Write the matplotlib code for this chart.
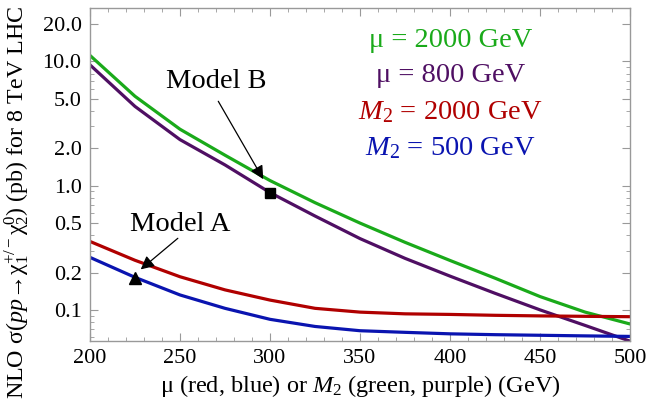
import numpy as np
import matplotlib
matplotlib.use("Agg")
import matplotlib.pyplot as plt
from matplotlib.ticker import FixedLocator, NullFormatter, MultipleLocator, LogLocator

plt.rcParams['font.family'] = ['Liberation Serif', 'DejaVu Serif']
plt.rcParams['mathtext.fontset'] = 'custom'
plt.rcParams['mathtext.rm'] = 'Liberation Serif'
plt.rcParams['mathtext.it'] = 'Liberation Serif:italic'

# mass parameter (GeV)
mass = [200, 225, 250, 275, 300, 325, 350, 375, 400, 425, 450, 475, 500]

# cross sections (pb)
green = [11.2, 5.25, 2.85, 1.76, 1.1, 0.73, 0.50, 0.35, 0.25, 0.18, 0.128, 0.096, 0.077]
purple = [9.4, 4.35, 2.35, 1.47, 0.88, 0.57, 0.375, 0.26, 0.187, 0.136, 0.10, 0.075, 0.056]
red = [0.356, 0.251, 0.185, 0.145, 0.12, 0.103, 0.096, 0.093, 0.092, 0.0905, 0.0895, 0.0888, 0.0882]
blue = [0.265, 0.183, 0.132, 0.103, 0.084, 0.0736, 0.068, 0.066, 0.0642, 0.0632, 0.0625, 0.0618, 0.0612]

modelA = (225, 0.18)
modelB = (300, 0.87)

yticks = [0.1, 0.2, 0.5, 1.0, 2.0, 5.0, 10.0, 20.0]
ylabels = ["0.1", "0.2", "0.5", "1.0", "2.0", "5.0", "10.0", "20.0"]

c_green = "#1aaa1a"
c_purple = "#4f0f63"
c_red = "#b00000"
c_blue = "#0a14b0"

fig = plt.figure(figsize=(6.47, 4.05), dpi=100)
ax = fig.add_axes([0.139, 0.158, 0.835, 0.822])

lw = 2.3
ax.plot(mass, green, color=c_green, lw=lw)
ax.plot(mass, purple, color=c_purple, lw=lw)
ax.plot(mass, red, color=c_red, lw=lw)
ax.plot(mass, blue, color=c_blue, lw=lw)

ax.plot(*modelA, marker="^", color="black", ms=8.5, clip_on=False)
ax.plot(*modelB, marker="s", color="black", ms=7.5, clip_on=False)

ax.set_yscale("log")
ax.set_xlim(200, 500)
ax.set_ylim(0.0562, 26.9)

ax.yaxis.set_major_locator(FixedLocator(yticks))
ax.set_yticklabels(ylabels)
ax.yaxis.set_minor_locator(LogLocator(base=10, subs=np.arange(1, 10)))
ax.yaxis.set_minor_formatter(NullFormatter())
ax.xaxis.set_major_locator(MultipleLocator(50))
ax.xaxis.set_minor_locator(MultipleLocator(10))

for s in ax.spines.values():
    s.set_color("#999999")
    s.set_linewidth(1.0)
ax.tick_params(which="both", direction="in", top=True, right=True,
               color="#999999", labelsize=16, pad=6)
ax.tick_params(which="major", length=6)
ax.tick_params(which="minor", length=3)

ax.set_xlabel(r"μ (red, blue) or $M_2$ (green, purple) (GeV)", fontsize=17.5, labelpad=3)
ax.set_ylabel(r"NLO σ($pp$→χ$_1^{+/-}$χ$_2^0$) (pb) for 8 TeV LHC", fontsize=17.3)
ax.yaxis.set_label_coords(-0.107, 0.416)

# annotations
ax.text(250, 0.49, "Model A", fontsize=20.5, ha="center", va="center")
ax.annotate("", xy=(227, 0.205), xytext=(250, 0.39),
            arrowprops=dict(arrowstyle="-|>", color="black", lw=0.9, mutation_scale=20))
ax.text(270, 6.9, "Model B", fontsize=20.5, ha="center", va="center")
ax.annotate("", xy=(297, 1.08), xytext=(270.5, 5.0),
            arrowprops=dict(arrowstyle="-|>", color="black", lw=0.9, mutation_scale=20))

# colour key
kx = 0.667
ax.text(kx, 0.904, "μ = 2000 GeV", color=c_green, fontsize=20.5, ha="center", va="center", transform=ax.transAxes)
ax.text(kx, 0.799, "μ = 800 GeV", color=c_purple, fontsize=20.5, ha="center", va="center", transform=ax.transAxes)
ax.text(kx, 0.688, r"$M_2$ = 2000 GeV", color=c_red, fontsize=20.5, ha="center", va="center", transform=ax.transAxes)
ax.text(kx, 0.580, r"$M_2$ = 500 GeV", color=c_blue, fontsize=20.5, ha="center", va="center", transform=ax.transAxes)

fig.savefig("out.png", dpi=100)
